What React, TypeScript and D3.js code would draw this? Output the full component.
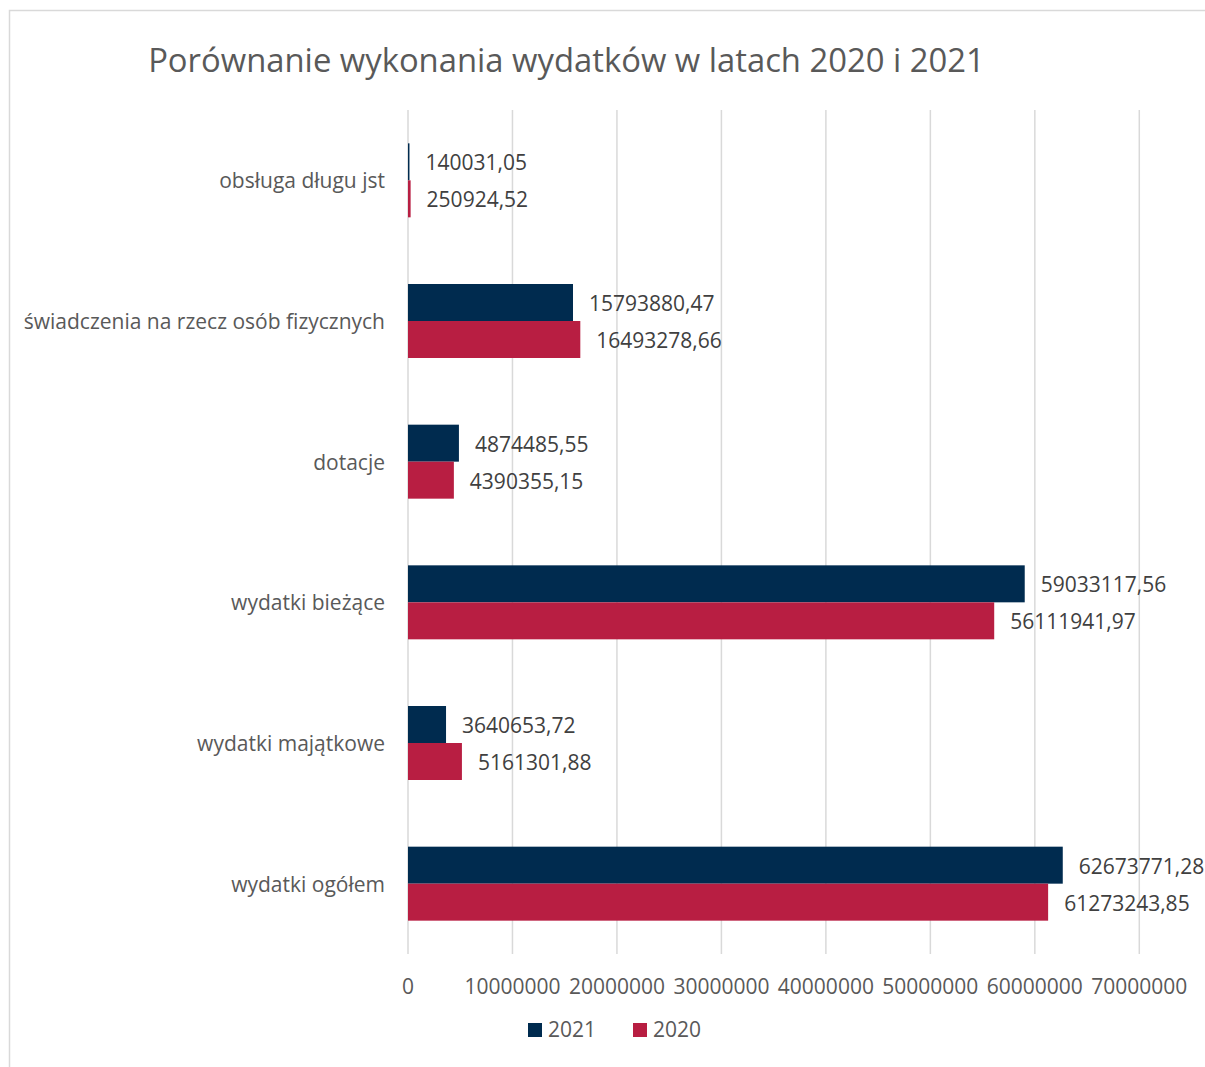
import React from "react";
import * as d3 from "d3";

const categories = [
  "obsługa długu jst",
  "świadczenia na rzecz osób fizycznych",
  "dotacje",
  "wydatki bieżące",
  "wydatki majątkowe",
  "wydatki ogółem",
];
const values2021 = [140031.05, 15793880.47, 4874485.55, 59033117.56, 3640653.72, 62673771.28];
const values2020 = [250924.52, 16493278.66, 4390355.15, 56111941.97, 5161301.88, 61273243.85];
const labels2021 = ["140031,05", "15793880,47", "4874485,55", "59033117,56", "3640653,72", "62673771,28"];
const labels2020 = ["250924,52", "16493278,66", "4390355,15", "56111941,97", "5161301,88", "61273243,85"];
const xTicks = [0, 10000000, 20000000, 30000000, 40000000, 50000000, 60000000, 70000000];
const seriesNames = ["2021", "2020"];
const seriesColors = ["#002B4F", "#B81E42"];

const FONT = "'Open Sans', sans-serif";

export default function App() {
  const W = 1205;
  const H = 1067;
  const left = 408;
  const right = 1139.3;
  const top = 110;
  const bottom = 954;

  const x = d3.scaleLinear().domain([0, 70000000]).range([left, right]);
  const y = d3.scaleBand<string>().domain(categories).range([top, bottom]).paddingInner(0.474).paddingOuter(0.237);
  const inner = d3.scaleBand<string>().domain(seriesNames).range([0, y.bandwidth()]);

  const series = [
    { name: "2021", values: values2021, labels: labels2021, color: seriesColors[0] },
    { name: "2020", values: values2020, labels: labels2020, color: seriesColors[1] },
  ];

  return (
    <svg width={W} height={H} style={{ position: "absolute", left: 0, top: 0, display: "block", background: "#fff" }}>
      <rect x={9.5} y={10.5} width={1300} height={1200} fill="#fff" stroke="#D9D9D9" strokeWidth={1.5} />
      <text x={566.5} y={72} textAnchor="middle" fontFamily={FONT} fontSize={32.8} fill="#595959">
        Porównanie wykonania wydatków w latach 2020 i 2021
      </text>
      {xTicks.map((t) => (
        <line key={t} x1={x(t)} x2={x(t)} y1={top} y2={bottom} stroke="#D9D9D9" strokeWidth={1.5} />
      ))}
      {xTicks.map((t) => (
        <text key={"l" + t} x={x(t)} y={994} textAnchor="middle" fontFamily={FONT} fontSize={21} fill="#595959">
          {String(t)}
        </text>
      ))}
      {categories.map((c) => (
        <text key={c} x={385} y={(y(c) as number) + y.bandwidth() / 2 + 0.5} dy="0.35em" textAnchor="end" fontFamily={FONT} fontSize={21} fill="#595959">
          {c}
        </text>
      ))}
      {series.map((s) =>
        categories.map((c, i) => {
          const y0 = (y(c) as number) + (inner(s.name) as number);
          const w = x(s.values[i]) - x(0);
          return (
            <g key={s.name + c}>
              <rect x={x(0)} y={y0} width={w} height={inner.bandwidth()} fill={s.color} />
              <text x={x(s.values[i]) + 16} y={y0 + inner.bandwidth() / 2 + 1} dy="0.35em" fontFamily={FONT} fontSize={21} fill="#404040">
                {s.labels[i]}
              </text>
            </g>
          );
        })
      )}
      {series.map((s, i) => {
        const lx = 528 + i * 105;
        return (
          <g key={"leg" + s.name}>
            <rect x={lx} y={1023} width={14} height={14} fill={s.color} />
            <text x={lx + 20} y={1037} fontFamily={FONT} fontSize={21} fill="#595959">
              {s.name}
            </text>
          </g>
        );
      })}
    </svg>
  );
}
